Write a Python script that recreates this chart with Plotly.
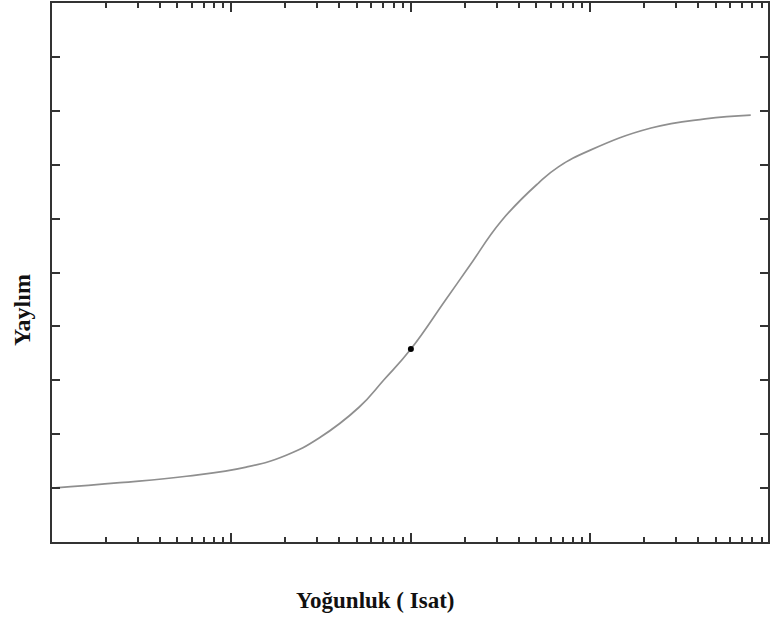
import plotly.graph_objects as go

# Concentration (log scale) and measured spread along the response curve
concentration = [0.010, 0.0239, 0.0562, 0.121, 0.202, 0.308, 0.514, 0.708, 1.0,
                 1.56, 2.10, 3.20, 5.14, 6.64, 10.0, 21.8, 43.6, 78.3]
spread = [1.00, 1.10, 1.22, 1.39, 1.61, 1.93, 2.50, 3.01, 3.58,
          4.49, 5.10, 5.96, 6.66, 6.96, 7.27, 7.68, 7.85, 7.92]

# Marked operating point
point_x = [1.0]
point_y = [3.58]

x_title = "Yoğunluk ( Isat)"
y_title = "Yaylım"

fig = go.Figure()
fig.add_trace(go.Scatter(
    x=concentration, y=spread, mode="lines",
    line=dict(color="#8f8f8f", width=1.7, shape="spline", smoothing=1.3),
    hoverinfo="skip", showlegend=False,
))
fig.add_trace(go.Scatter(
    x=point_x, y=point_y, mode="markers",
    marker=dict(color="black", size=6, symbol="circle"),
    showlegend=False,
))

frame = dict(showline=True, linecolor="#333", linewidth=2, mirror="allticks",
             ticks="inside", tickcolor="#333", tickwidth=2,
             showticklabels=False, showgrid=False, zeroline=False)

fig.update_xaxes(type="log", range=[-2, 1.99], dtick=1, ticklen=9,
                 minor=dict(ticks="inside", ticklen=5, tickwidth=2,
                            tickcolor="#333", dtick="D1", showgrid=False),
                 **frame)
fig.update_yaxes(range=[0, 10], dtick=1, ticklen=8, **frame)

serif = "Liberation Serif, Times New Roman, serif"
fig.add_annotation(text=f"<b>{x_title}</b>", xref="paper", yref="paper",
                   x=(376 - 52) / 718, y=-58 / 539, showarrow=False,
                   font=dict(family=serif, size=23, color="#111"),
                   xanchor="center", yanchor="middle")
fig.add_annotation(text=f"<b>{y_title}</b>", xref="paper", yref="paper",
                   x=-30 / 718, y=(542 - 310) / 539, showarrow=False,
                   font=dict(family=serif, size=24, color="#111"),
                   textangle=-90, xanchor="center", yanchor="middle")

fig.update_layout(width=771, height=617,
                  margin=dict(l=52, r=1, t=3, b=75),
                  paper_bgcolor="white", plot_bgcolor="white")

fig.write_html("out.html")
